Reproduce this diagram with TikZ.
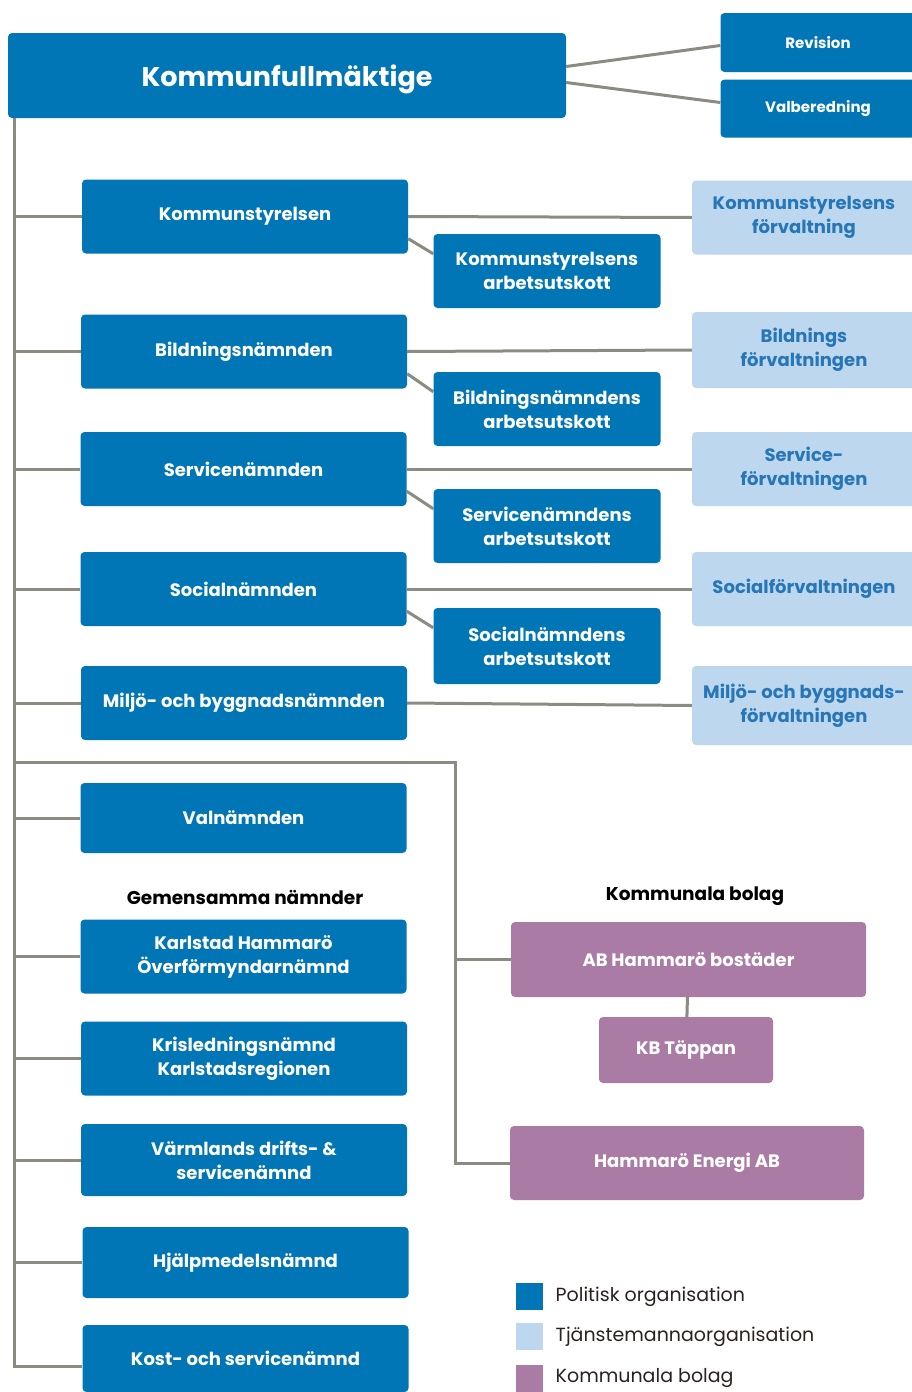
\documentclass[tikz,border=0pt]{standalone}
\usepackage{fontspec}
\setmainfont{Poppins}
\usetikzlibrary{positioning}
\definecolor{polblue}{RGB}{0,118,182}
\definecolor{tjblue}{RGB}{189,215,238}
\definecolor{tjtext}{RGB}{38,118,184}
\definecolor{bolag}{RGB}{169,123,165}
\definecolor{linegray}{RGB}{140,139,128}
\definecolor{legtxt}{RGB}{43,34,32}
\begin{document}
\begin{tikzpicture}[x=1pt,y=-1pt,
    box/.style={rounded corners=4pt, inner sep=0pt, align=center,
        minimum width=326pt, minimum height=74pt,
        font=\bfseries\fontsize{18}{24}\selectfont},
    pol/.style={box, fill=polblue, text=white},
    au/.style={pol, minimum width=227pt},
    tj/.style={box, fill=tjblue, text=tjtext, minimum width=224pt},
    bol/.style={box, fill=bolag, text=white, minimum width=355pt},
    conn/.style={draw=linegray, line width=3pt},
    heading/.style={font=\bfseries\fontsize{18.5}{22}\selectfont},
    legbox/.style={minimum size=27pt, inner sep=0pt},
    legtext/.style={text=legtxt, font=\fontsize{19}{22}\selectfont}]
    \useasboundingbox[fill=white] (0,0) rectangle (912,1392);

    % top
    \node[pol, minimum width=558pt, minimum height=85pt, text height=24pt, text depth=2pt,
          font=\bfseries\fontsize{27}{30}\selectfont] (kf) at (287,75.5) {Kommunfullmäktige};
    \node[pol, minimum width=195pt, minimum height=59pt,
          font=\bfseries\fontsize{15}{18}\selectfont] (rev) at (818,42.5) {Revision};
    \node[pol, minimum width=195pt, minimum height=58pt,
          font=\bfseries\fontsize{15}{18}\selectfont] (valb) at (818,108.5) {Valberedning};

    % nämnder
    \node[pol] (ks) at (245,216.5) {Kommunstyrelsen};
    \node[au] (ksau) at (547,271) {Kommunstyrelsens\\arbetsutskott};
    \node[tj] (ksf) at (804,217.5) {Kommunstyrelsens\\förvaltning};

    \node[pol] (bn) at (244,351.5) {Bildningsnämnden};
    \node[au] (bnau) at (547,409) {Bildningsnämndens\\arbetsutskott};
    \node[tj, minimum height=76pt] (bnf) at (804,350) {Bildnings\\förvaltningen};

    \node[pol] (sn) at (243.5,469) {Servicenämnden};
    \node[au] (snau) at (547,526) {Servicenämndens\\arbetsutskott};
    \node[tj] (snf) at (804,469) {Service-\\förvaltningen};

    \node[pol] (soc) at (243.5,589) {Socialnämnden};
    \node[au, minimum height=76pt] (socau) at (547,646) {Socialnämndens\\arbetsutskott};
    \node[tj] (socf) at (804,589) {Socialförvaltningen};

    \node[pol] (mb) at (244,703) {Miljö- och byggnadsnämnden};
    \node[tj, minimum height=79pt] (mbf) at (804,705.5) {Miljö- och byggnads-\\förvaltningen};

    \node[pol, minimum height=70pt] (val) at (243.5,818) {Valnämnden};

    % gemensamma nämnder
    \node[heading] (gem) at (245,897) {Gemensamma nämnder};
    \node[pol] (kh) at (243.5,956.5) {Karlstad Hammarö\\Överförmyndarnämnd};
    \node[pol] (kris) at (244,1058.5) {Krisledningsnämnd\\Karlstadsregionen};
    \node[pol, minimum height=72pt] (vdsn) at (244,1160) {Värmlands drifts- \&\\servicenämnd};
    \node[pol, minimum height=71pt] (hjm) at (245.5,1262.5) {Hjälpmedelsnämnd};
    \node[pol, minimum height=67pt] (kost) at (245.5,1358.5) {Kost- och servicenämnd};

    % kommunala bolag
    \node[heading] (bolh) at (695,896) {Kommunala bolag};
    \node[bol, minimum height=75pt] (abh) at (688.5,959.5) {AB Hammarö bostäder};
    \node[bol, minimum width=174pt, minimum height=66pt] (kbt) at (686,1050) {KB Täppan};
    \node[bol, minimum width=354pt] (energi) at (687,1163) {Hammarö Energi AB};

    % legend
    \node[legbox, fill=polblue] (l1) at (529.5,1296.5) {};
    \node[legbox, fill=tjblue] (l2) at (529.5,1336.5) {};
    \node[legbox, fill=bolag] (l3) at (529.5,1378.5) {};
    \node[legtext, right=9pt of l1] (l1t) {Politisk organisation};
    \node[legtext, right=9pt of l2] (l2t) {Tjänstemannaorganisation};
    \node[legtext, right=9pt of l3] (l3t) {Kommunala bolag};

    % connectors
    \coordinate (trunk) at (14,1366);
    \coordinate (fork) at (455,762);
    \draw[conn] ([yshift=9pt]kf.east) -- ([yshift=-3pt]rev.west);
    \draw[conn] ([yshift=-7pt]kf.east) -- ([yshift=6pt]valb.west);
    \draw[conn] (kf.south -| trunk) -- (trunk) -- (trunk -| kost.west);
    \foreach \n in {ks,bn,sn,soc,mb,val,kh,kris,vdsn,hjm}
        \draw[conn] (\n.west -| trunk) -- (\n.west);
    \foreach \n/\f in {ks/ksf,bn/bnf,sn/snf,soc/socf,mb/mbf}
        \draw[conn] (\n.east) -- (\f.west);
    \foreach \n/\a in {ks/ksau,bn/bnau,sn/snau,soc/socau}
        \draw[conn] ([yshift=15pt]\n.south east) -- ([yshift=-20pt]\a.north west);
    \draw[conn] (fork -| trunk) -- (fork) |- (energi.west);
    \draw[conn] (fork |- abh.west) -- (abh.west);
    \draw[conn] (abh) -- (kbt);
\end{tikzpicture}
\end{document}
